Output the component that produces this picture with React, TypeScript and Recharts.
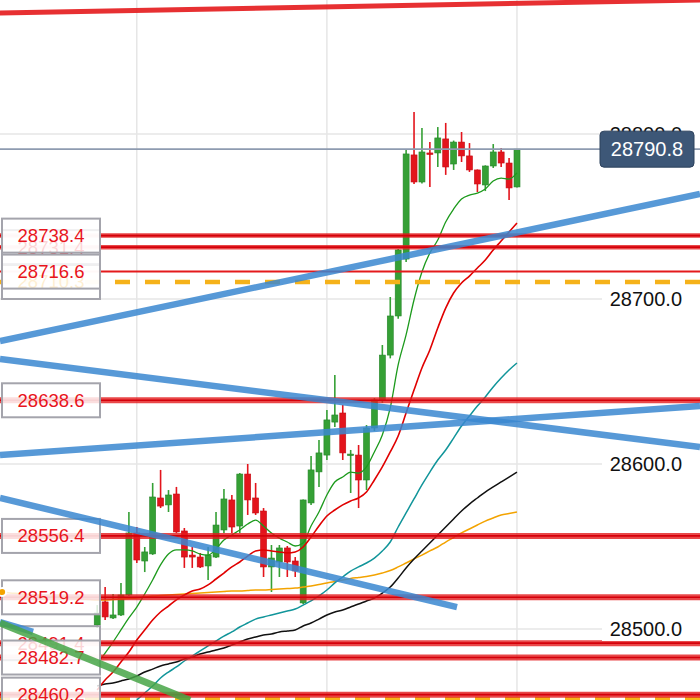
import React from 'react';
import {
  ComposedChart,
  Bar,
  Line,
  XAxis,
  YAxis,
  CartesianGrid,
  ReferenceLine,
} from 'recharts';

// candles, oldest first (session 0 sits just right of the tag column)
const opens = [
  28502.4, 28516.4, 28506.7, 28508.5, 28520.6, 28558.2, 28541.2, 28545.5, 28579.4, 28575.2,
  28581.8, 28559.4, 28544.8, 28543.6, 28538.2, 28543.6, 28560.0, 28578.2, 28562.4, 28593.9,
  28579.4, 28571.5, 28537.6, 28540.6, 28549.1, 28541.2, 28515.8, 28576.4, 28595.2, 28605.4,
  28625.4, 28630.9, 28605.4, 28605.4, 28590.3, 28621.8, 28638.8, 28666.0, 28689.7, 28724.2,
  28787.3, 28770.9, 28788.5, 28788.5, 28797.0, 28781.8, 28795.1, 28786.7, 28778.2, 28769.1,
  28780.6, 28789.1, 28782.4, 28767.9,
];
const highs = [
  28514.5, 28525.5, 28521.2, 28527.9, 28570.9, 28561.8, 28549.7, 28588.5, 28596.4, 28584.2,
  28586.1, 28561.2, 28549.7, 28546.1, 28549.7, 28570.9, 28584.8, 28581.2, 28594.5, 28600.0,
  28588.5, 28573.3, 28550.9, 28550.9, 28550.3, 28543.6, 28578.5, 28604.8, 28614.5, 28632.7,
  28653.9, 28635.8, 28608.5, 28611.5, 28623.6, 28640.0, 28672.1, 28701.2, 28730.3, 28790.9,
  28813.3, 28803.6, 28795.1, 28804.2, 28806.7, 28796.0, 28801.2, 28794.5, 28778.5, 28781.0,
  28793.9, 28791.5, 28785.4, 28790.8,
];
const lows = [
  28500.6, 28505.5, 28506.1, 28507.9, 28520.0, 28540.0, 28534.5, 28544.9, 28573.3, 28570.9,
  28558.2, 28537.0, 28537.0, 28537.0, 28529.7, 28543.0, 28558.2, 28558.2, 28558.2, 28569.1,
  28569.1, 28531.5, 28522.4, 28531.5, 28531.5, 28531.5, 28515.2, 28575.2, 28586.1, 28602.4,
  28622.4, 28602.4, 28582.4, 28573.3, 28584.2, 28620.0, 28637.0, 28664.0, 28688.0, 28722.4,
  28769.7, 28770.0, 28767.9, 28780.0, 28775.2, 28778.2, 28783.0, 28777.0, 28764.8, 28765.4,
  28779.4, 28780.0, 28760.0, 28767.5,
];
const closes = [
  28509.7, 28507.3, 28508.5, 28520.6, 28558.2, 28541.8, 28546.7, 28580.0, 28574.5, 28581.2,
  28558.8, 28543.6, 28543.6, 28537.6, 28544.8, 28563.0, 28578.8, 28561.8, 28593.9, 28578.2,
  28570.3, 28537.6, 28543.0, 28549.1, 28540.6, 28535.2, 28578.2, 28596.4, 28606.7, 28626.7,
  28629.7, 28606.7, 28606.0, 28590.3, 28621.8, 28638.8, 28666.0, 28689.7, 28729.7, 28787.9,
  28770.9, 28789.1, 28787.9, 28797.6, 28780.0, 28795.1, 28786.7, 28778.2, 28769.7, 28780.6,
  28789.1, 28782.4, 28767.3, 28790.8,
];

// moving averages
const maGreen = [
  28478.8, 28485.4, 28492.1, 28499.4, 28506.7, 28513.3, 28521.2, 28529.7, 28538.8, 28545.4,
  28547.9, 28547.9, 28547.3, 28545.4, 28544.8, 28548.5, 28553.9, 28557.0, 28560.0, 28563.6,
  28566.0, 28562.4, 28558.2, 28555.1, 28552.7, 28550.3, 28552.1, 28562.4, 28570.9, 28581.2,
  28589.1, 28592.1, 28595.1, 28594.5, 28598.2, 28607.3, 28617.6, 28634.0, 28660.0, 28678.2,
  28699.4, 28716.4, 28727.9, 28735.7, 28746.7, 28754.5, 28760.6, 28763.0, 28764.2, 28766.7,
  28771.5, 28773.3, 28772.7, 28776.4,
];
const maRed = [
  28463.0, 28469.1, 28473.9, 28480.0, 28486.0, 28493.3, 28499.4, 28505.4, 28510.3, 28513.9,
  28517.6, 28520.6, 28523.0, 28524.2, 28526.7, 28530.3, 28533.9, 28537.6, 28540.6, 28544.2,
  28547.3, 28547.9, 28547.3, 28546.7, 28546.1, 28546.7, 28549.7, 28555.7, 28562.4, 28568.5,
  28572.1, 28575.2, 28577.6, 28579.4, 28583.0, 28590.3, 28598.2, 28607.3, 28617.0, 28630.9,
  28644.8, 28658.2, 28669.1, 28682.4, 28694.5, 28703.6, 28709.7, 28713.9, 28718.8, 28723.6,
  28729.7, 28735.1, 28740.6, 28746.0,
];
const maTeal = [
  null, null, null, null, null, 28457.0, 28461.2, 28465.4, 28470.3, 28473.9,
  28477.0, 28480.6, 28483.6, 28486.7, 28489.7, 28492.7, 28495.7, 28498.2, 28501.2, 28503.6,
  28506.0, 28507.3, 28508.5, 28509.7, 28510.9, 28512.1, 28514.5, 28517.0, 28520.0, 28523.6,
  28527.9, 28531.5, 28535.1, 28537.6, 28540.0, 28543.0, 28547.3, 28552.7, 28561.8, 28570.3,
  28578.8, 28587.3, 28595.1, 28602.4, 28608.5, 28615.7, 28623.0, 28629.1, 28635.1, 28640.6,
  28646.7, 28652.1, 28657.0, 28661.2,
];
const maBlack = [
  28465.4, 28466.7, 28467.3, 28468.5, 28469.7, 28471.5, 28473.9, 28475.7, 28477.6, 28478.8,
  28480.0, 28481.8, 28483.0, 28484.8, 28486.0, 28487.3, 28488.5, 28490.3, 28492.1, 28493.9,
  28495.1, 28496.4, 28497.0, 28498.2, 28498.8, 28499.4, 28501.8, 28503.6, 28506.0, 28508.5,
  28510.3, 28511.5, 28513.3, 28515.1, 28517.0, 28518.8, 28521.8, 28525.4, 28530.9, 28537.0,
  28542.4, 28547.3, 28552.1, 28557.0, 28561.8, 28566.7, 28571.5, 28575.7, 28579.4, 28583.0,
  28586.1, 28589.1, 28592.1, 28595.1,
];
// the slow average also runs under the tag column (12 earlier sessions)
const EARLIER = 12;
const maOrange = [
  28522.4, 28521.8, 28521.5, 28521.2, 28520.6, 28520.0, 28519.7, 28519.4, 28518.8, 28518.5,
  28518.2, 28517.9,
  28517.6, 28517.6, 28517.9, 28518.2, 28518.5, 28518.8, 28519.4, 28520.0, 28520.3, 28520.6,
  28520.9, 28521.2, 28521.5, 28521.8, 28522.1, 28522.4, 28522.7, 28523.0, 28523.0, 28523.3,
  28523.6, 28523.6, 28523.9, 28524.2, 28524.5, 28524.8, 28525.4, 28526.0, 28526.9, 28527.9,
  28528.8, 28529.7, 28530.6, 28531.2, 28531.8, 28532.7, 28533.9, 28535.4, 28537.6, 28540.0,
  28542.4, 28544.8, 28547.3, 28549.7, 28552.7, 28555.4, 28558.2, 28560.6, 28563.0, 28565.4,
  28567.3, 28569.1, 28570.0, 28570.9,
];

// horizontal levels with their left tags (drawn back to front)
const levelPrices = [28731.4, 28738.4, 28710.3, 28716.6, 28638.6, 28556.4, 28519.2, 28491.4, 28482.7, 28460.2];
const dashedPrices = [28710.3, 28457.5];
const thinPrices = [28716.6];
const lastPrice = 28790.8;
const priceTicks = [28500, 28600, 28700, 28800];
const gridSessions = [5, 29, 53];

// hand-drawn trend lines: [session, price] end points
const blueRising = [[-12.27, 28674.5], [76.11, 28763.6]];
const blueFalling = [[-12.27, 28663.6], [76.11, 28610.3]];
const blueFlat = [[-12.27, 28605.4], [76.11, 28635.1]];
const blueShortFall = [[-12.27, 28579.4], [45.43, 28513.3]];
const blueStub = [[-12.27, 28504.2], [-8.1, 28498.2]];
const greenFalling = [[-12.27, 28503.6], [11.72, 28456.8]];
const redTop = [[-12.27, 28873.3], [76.11, 28881.2]];

const X_DOMAIN = [-12.27, 76.11];
const Y_DOMAIN = [28456.96, 28881.2];

const rows = maOrange.map((slow, k) => {
  const i = k - EARLIER;
  const has = i >= 0;
  return {
    i,
    open: has ? opens[i] : null,
    high: has ? highs[i] : null,
    low: has ? lows[i] : null,
    close: has ? closes[i] : null,
    maGreen: has ? maGreen[i] : null,
    maRed: has ? maRed[i] : null,
    maTeal: has ? maTeal[i] : null,
    maBlack: has ? maBlack[i] : null,
    maOrange: slow,
  };
});

const UP = '#35a035';
const DOWN = '#e3141c';
const LEVEL_RED = '#e41a1c';
const TREND_BLUE = '#3a87d0';
const FONT = '"Liberation Sans", Arial, Helvetica, sans-serif';

const Candle = (props: any) => {
  const { x, y, width, height, payload } = props;
  if (!payload || payload.high == null) return null;
  const { open, close, high, low } = payload;
  const top = Math.min(y, y + height);
  const h = Math.abs(height);
  const k = high === low ? 0 : h / (high - low);
  const cx = x + width / 2;
  const yo = top + (high - open) * k;
  const yc = top + (high - close) * k;
  const up = close >= open;
  const fill = up ? UP : DOWN;
  const edge = up ? '#26862a' : '#c40d14';
  return (
    <g>
      <line x1={cx} x2={cx} y1={top} y2={top + h} stroke={fill} strokeWidth={1.6} />
      <rect
        x={cx - 3}
        y={Math.min(yo, yc)}
        width={6}
        height={Math.max(1.5, Math.abs(yo - yc))}
        fill={fill}
        stroke={edge}
        strokeWidth={0.6}
      />
    </g>
  );
};

const LevelTag = (props: any) => {
  const { viewBox, text, color } = props;
  if (!viewBox) return null;
  const cy = viewBox.y;
  return (
    <g>
      <rect x={2} y={cy - 17} width={98} height={34} fill="#fff" fillOpacity={0.82} stroke="#a4a4ac" strokeWidth={2} />
      <text x={51} y={cy} dy={6.5} textAnchor="middle" fontSize={18.5} fontFamily={FONT} fill={color}>
        {text}
      </text>
    </g>
  );
};

// axis labels; the last price gets the dark tag, drawn after the round ticks
const PriceTick = (props: any) => {
  const { y, payload } = props;
  const v = Number(payload.value);
  if (v === lastPrice) {
    return (
      <g>
        <rect x={600} y={y - 18} width={94} height={36} rx={4} fill="#3d5777" stroke="#2d425d" strokeWidth={1} />
        <text x={647} y={y} dy={7} textAnchor="middle" fontSize={20} fontFamily={FONT} fill="#fff">
          {v.toFixed(1)}
        </text>
      </g>
    );
  }
  return (
    <g>
      <rect x={602} y={y - 12} width={98} height={24} fill="#fff" />
      <text x={682} y={y} dy={7} textAnchor="end" fontSize={20} fontFamily={FONT} fill="#111">
        {v.toFixed(1)}
      </text>
    </g>
  );
};

const seg = (pts: number[][]) => pts.map(([x, y]) => ({ x, y }));

export default function App() {
  return (
    <div style={{ position: 'absolute', left: 0, top: 0, width: 700, height: 700, background: '#fff', fontFamily: FONT }}>
      <ComposedChart width={700} height={700} data={rows} margin={{ top: 0, right: 0, bottom: 0, left: 0 }}>
        <CartesianGrid stroke="#e6e6e6" strokeWidth={1.5} verticalValues={gridSessions} horizontalValues={priceTicks} />
        <XAxis type="number" dataKey="i" domain={X_DOMAIN} allowDataOverflow hide ticks={gridSessions} />
        <YAxis
          orientation="right"
          mirror
          domain={Y_DOMAIN}
          allowDataOverflow
          ticks={[...priceTicks, lastPrice]}
          interval={0}
          axisLine={false}
          tickLine={false}
          tick={<PriceTick />}
          width={100}
        />

        <Line type="monotone" dataKey="maOrange" stroke="#f3a300" strokeWidth={1.5} dot={false} isAnimationActive={false} />
        <Line type="monotone" dataKey="maBlack" stroke="#111" strokeWidth={1.5} dot={false} isAnimationActive={false} />
        <Line type="monotone" dataKey="maTeal" stroke="#11959a" strokeWidth={1.5} dot={false} isAnimationActive={false} />
        <Line type="monotone" dataKey="maRed" stroke="#e00000" strokeWidth={1.6} dot={false} isAnimationActive={false} />
        <Line type="monotone" dataKey="maGreen" stroke="#1c9a1c" strokeWidth={1.3} dot={false} isAnimationActive={false} />
        <Bar
          dataKey={(d: any) => (d.high == null ? null : [d.low, d.high])}
          shape={<Candle />}
          barSize={6}
          isAnimationActive={false}
        />

        {dashedPrices.map((p) => (
          <ReferenceLine key={'d' + p} y={p} stroke="#f5b21a" strokeWidth={4.5} strokeDasharray="15 15" ifOverflow="hidden" />
        ))}
        {levelPrices.map((p) => {
          if (dashedPrices.includes(p)) return null;
          const thin = thinPrices.includes(p);
          return (
            <ReferenceLine
              key={'w' + p}
              y={p}
              stroke={LEVEL_RED}
              strokeOpacity={thin ? 1 : 0.8}
              strokeWidth={thin ? 2 : p > 28700 ? 4.5 : 6}
              ifOverflow="hidden"
            />
          );
        })}
        {levelPrices.map((p) =>
          dashedPrices.includes(p) || thinPrices.includes(p) ? null : (
            <ReferenceLine key={'c' + p} y={p} stroke="#d4000a" strokeWidth={1.6} ifOverflow="hidden" />
          )
        )}

        <ReferenceLine y={lastPrice} stroke="#8e9bb0" strokeWidth={1.8} />

        <ReferenceLine segment={seg(redTop)} stroke={LEVEL_RED} strokeWidth={5} strokeOpacity={0.9} ifOverflow="hidden" />
        {levelPrices.map((p) => (
          <ReferenceLine
            key={'t' + p}
            y={p}
            stroke="none"
            ifOverflow="hidden"
            label={<LevelTag text={p.toFixed(1)} color={dashedPrices.includes(p) ? '#f5a300' : '#e8141c'} />}
          />
        ))}
        <ReferenceLine segment={seg(blueRising)} stroke={TREND_BLUE} strokeWidth={6.5} strokeOpacity={0.85} ifOverflow="hidden" />
        <ReferenceLine segment={seg(blueFalling)} stroke={TREND_BLUE} strokeWidth={6.5} strokeOpacity={0.85} ifOverflow="hidden" />
        <ReferenceLine segment={seg(blueFlat)} stroke={TREND_BLUE} strokeWidth={6.5} strokeOpacity={0.85} ifOverflow="hidden" />
        <ReferenceLine segment={seg(blueShortFall)} stroke={TREND_BLUE} strokeWidth={6.5} strokeOpacity={0.85} ifOverflow="hidden" />
        <ReferenceLine segment={seg(blueStub)} stroke={TREND_BLUE} strokeWidth={6.5} strokeOpacity={0.85} ifOverflow="hidden" />
        <ReferenceLine segment={seg(greenFalling)} stroke="#46a546" strokeWidth={7} strokeOpacity={0.85} ifOverflow="hidden" />
      </ComposedChart>
    </div>
  );
}
